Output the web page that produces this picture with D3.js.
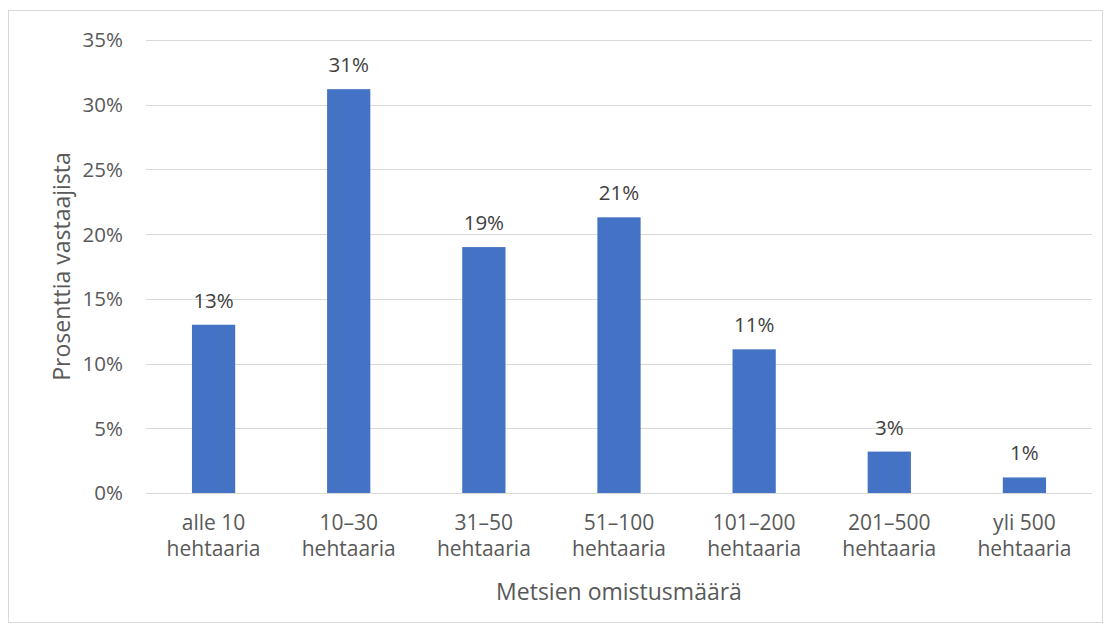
<!DOCTYPE html>
<html>
<head>
<meta charset="utf-8">
<script src="https://cdn.jsdelivr.net/npm/d3@7"></script>
<style>
  body { margin: 0; background: #fff; }
  text { font-family: "Open Sans", "Noto Sans", sans-serif; fill: #595959; }
</style>
</head>
<body>
<div id="chart"></div>
<script>
const WIDTH = 1111;
const HEIGHT = 632;

const categories = [
  ['alle 10', 'hehtaaria'],
  ['10–30', 'hehtaaria'],
  ['31–50', 'hehtaaria'],
  ['51–100', 'hehtaaria'],
  ['101–200', 'hehtaaria'],
  ['201–500', 'hehtaaria'],
  ['yli 500', 'hehtaaria']
];
const values = [13.0, 31.2, 19.0, 21.3, 11.1, 3.2, 1.2];
const valueLabels = ['13%', '31%', '19%', '21%', '11%', '3%', '1%'];
const yTicks = [0, 5, 10, 15, 20, 25, 30, 35];

const margin = { left: 146, right: 19, top: 40, bottom: 139 };

const svg = d3.select('#chart')
  .append('svg')
  .attr('width', WIDTH)
  .attr('height', HEIGHT);

svg.append('rect')
  .attr('x', 8.5).attr('y', 10.5)
  .attr('width', WIDTH - 17).attr('height', HEIGHT - 20)
  .attr('fill', '#fff')
  .attr('stroke', '#d9d9d9');

const xScale = d3.scaleBand()
  .domain(categories.map((d, i) => i))
  .range([margin.left, WIDTH - margin.right])
  .paddingInner(0.68)
  .paddingOuter(0.34);

const yScale = d3.scaleLinear()
  .domain([0, 35])
  .range([HEIGHT - margin.bottom, margin.top]);

// gridlines
svg.append('g')
  .selectAll('line')
  .data(yTicks)
  .enter()
  .append('line')
  .attr('x1', margin.left)
  .attr('x2', WIDTH - margin.right)
  .attr('y1', d => Math.round(yScale(d)) + 0.5)
  .attr('y2', d => Math.round(yScale(d)) + 0.5)
  .attr('stroke', '#d9d9d9')
  .attr('stroke-width', 1);

// y tick labels
svg.append('g')
  .selectAll('text')
  .data(yTicks)
  .enter()
  .append('text')
  .attr('x', 123)
  .attr('y', d => yScale(d))
  .attr('dy', '0.36em')
  .attr('text-anchor', 'end')
  .style('font-size', '20.5px')
  .text(d => d + '%');

// bars
svg.append('g')
  .selectAll('rect')
  .data(values)
  .enter()
  .append('rect')
  .attr('x', (d, i) => xScale(i))
  .attr('y', d => yScale(d))
  .attr('width', xScale.bandwidth())
  .attr('height', d => yScale(0) - yScale(d))
  .attr('fill', '#4472c4');

// value labels
svg.append('g')
  .selectAll('text')
  .data(values)
  .enter()
  .append('text')
  .attr('x', (d, i) => xScale(i) + xScale.bandwidth() / 2)
  .attr('y', d => yScale(d) - 17)
  .attr('text-anchor', 'middle')
  .style('font-size', '20.5px')
  .style('fill', '#404040')
  .text((d, i) => valueLabels[i]);

// x category labels
const catGroups = svg.append('g')
  .selectAll('text')
  .data(categories)
  .enter()
  .append('text')
  .attr('text-anchor', 'middle')
  .attr('x', (d, i) => xScale(i) + xScale.bandwidth() / 2)
  .style('font-size', '21px');

catGroups.selectAll('tspan')
  .data(d => d)
  .enter()
  .append('tspan')
  .attr('x', function () { return d3.select(this.parentNode).attr('x'); })
  .attr('y', (d, j) => 530 + j * 26)
  .text(d => d);

// axis titles
svg.append('text')
  .attr('x', (margin.left + WIDTH - margin.right) / 2)
  .attr('y', 600)
  .attr('text-anchor', 'middle')
  .style('font-size', '23px')
  .text('Metsien omistusmäärä');

svg.append('text')
  .attr('transform', `translate(70, ${(margin.top + HEIGHT - margin.bottom) / 2}) rotate(-90)`)
  .attr('text-anchor', 'middle')
  .style('font-size', '23px')
  .text('Prosenttia vastaajista');
</script>
</body>
</html>
